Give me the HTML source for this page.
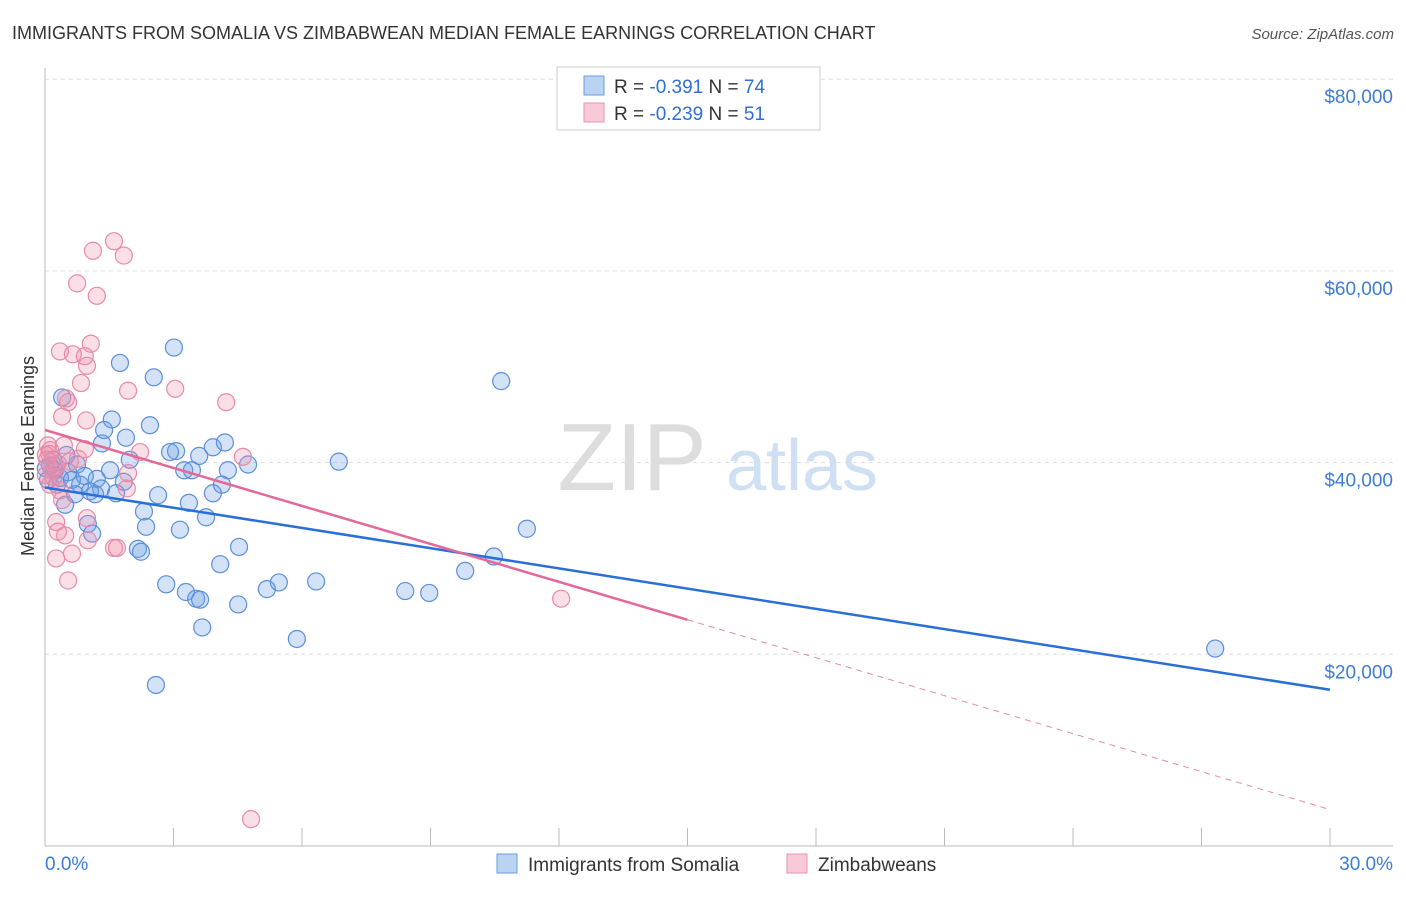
<!DOCTYPE html>
<html><head><meta charset="utf-8"><style>
body{margin:0;background:#fff;font-family:"Liberation Sans",sans-serif;}
svg text{font-family:"Liberation Sans",sans-serif;}
</style></head><body>
<svg width="1406" height="892" xmlns="http://www.w3.org/2000/svg" id="chart">
<text x="12" y="39" font-size="18" fill="#333">IMMIGRANTS FROM SOMALIA VS ZIMBABWEAN MEDIAN FEMALE EARNINGS CORRELATION CHART</text>
<text x="1394" y="39" font-size="15" fill="#555" font-style="italic" text-anchor="end">Source: ZipAtlas.com</text>
<g>
<text x="632" y="490" font-size="96" fill="#ddd" text-anchor="middle" font-family="Liberation Serif">ZIP</text>
<text x="802" y="490" font-size="72" fill="#cfe0f5" text-anchor="middle">atlas</text>
</g>
<g id="grid"></g>
<g id="axes"></g>
<g id="pts-blue"></g>
<g id="pts-pink"></g>
<g id="trends"></g>
<text x="34" y="456" font-size="18" fill="#333" text-anchor="middle" transform="rotate(-90 34 456)">Median Female Earnings</text>
<g>
<rect x="557" y="67" width="263" height="63" fill="#fff" stroke="#ccc"/>
<rect x="584" y="76" width="20" height="19" fill="#b9d3f3" stroke="#6a9ee0"/>
<rect x="584" y="103" width="20" height="19" fill="#f9c9d8" stroke="#ea92b0"/>
<text x="614" y="93" font-size="19" fill="#333">R = <tspan fill="#2f6fd6">-0.391</tspan>   N = <tspan fill="#2f6fd6">74</tspan></text>
<text x="614" y="120" font-size="19" fill="#333">R = <tspan fill="#2f6fd6">-0.239</tspan>   N =  <tspan fill="#2f6fd6">51</tspan></text>
</g>
<g>
<rect x="497" y="854" width="20" height="19" fill="#b9d3f3" stroke="#6a9ee0"/>
<text x="528" y="871" font-size="19" fill="#333">Immigrants from Somalia</text>
<rect x="787" y="854" width="20" height="19" fill="#f9c9d8" stroke="#ea92b0"/>
<text x="818" y="871" font-size="19" fill="#333">Zimbabweans</text>
</g>
</svg>
<script>
const blueX=[3.01,2.54,1.75,10.65,0.40,1.56,2.45,1.38,1.89,1.33,3.06,2.92,3.92,4.20,3.60,4.74,6.86,3.25,3.43,4.27,1.98,0.75,0.54,1.21,1.84,4.13,0.28,0.82,1.31,2.64,3.36,3.92,1.66,0.70,1.17,0.47,2.31,3.76,3.15,2.36,1.00,1.10,11.25,10.48,4.53,2.17,2.24,4.09,9.81,2.83,6.33,5.46,5.18,3.29,3.53,3.62,4.51,8.41,8.97,3.67,5.88,2.59,27.32,0.12,0.23,0.07,0.35,0.63,0.93,0.02,0.19,1.52,1.05,0.5];
const blueY=[52.0,48.9,50.4,48.5,46.8,44.5,43.9,43.4,42.6,42.0,41.2,41.1,41.6,42.1,40.7,39.8,40.1,39.2,39.2,39.2,40.3,39.8,39.0,38.3,38.0,37.7,37.7,37.7,37.3,36.6,35.8,36.8,36.8,36.7,36.7,35.6,34.9,34.3,33.0,33.3,33.6,32.6,33.1,30.2,31.2,31.0,30.7,29.4,28.7,27.3,27.6,27.5,26.8,26.5,25.8,25.7,25.2,26.6,26.4,22.8,21.6,16.8,20.6,39.7,39.2,38.2,38.4,38.2,38.6,39.4,40.3,39.2,37.0,40.8];
const pinkX=[1.61,1.84,1.12,0.75,1.21,1.07,0.35,0.65,0.93,0.98,0.84,0.49,0.54,0.40,0.96,1.94,3.04,4.23,0.44,0.93,0.77,4.62,2.22,1.94,1.91,0.12,0.05,0.16,0.26,0.02,0.35,0.40,0.26,0.30,0.98,0.47,1.00,0.26,0.63,1.61,1.68,0.54,12.05,4.81,0.07,0.02,0.12,0.58,0.2,0.3,0.1];
const pinkY=[63.1,61.6,62.1,58.7,57.4,52.4,51.6,51.3,51.1,50.1,48.3,46.7,46.3,44.8,44.4,47.5,47.7,46.3,41.8,41.4,40.4,40.6,41.1,38.9,37.3,41.3,40.3,39.2,39.6,38.7,37.1,36.1,33.8,32.8,34.2,32.4,31.9,30.0,30.5,31.1,31.1,27.7,25.8,2.8,41.8,40.8,37.7,40.1,38.5,39.9,40.9];
const yTicks=[20,40,60,80];
const yTickLabels=["$20,000","$40,000","$60,000","$80,000"];
const xTickLabels=["0.0%","30.0%"];
const blueTrend=[37.4,16.3];
const pinkTrend=[43.4,3.8];
const pinkSolidEnd=15;

const NS="http://www.w3.org/2000/svg";
const X0=45,X1=1330,Y0=846,YPER=191.7/20;
const sx=v=>X0+(v/30)*(X1-X0);
const sy=v=>Y0-v*YPER;
function mk(tag,attrs,parent){const e=document.createElementNS(NS,tag);for(const k in attrs)e.setAttribute(k,attrs[k]);parent.appendChild(e);return e;}
const grid=document.getElementById('grid'),axes=document.getElementById('axes');
yTicks.forEach((t,i)=>{
 const l=mk('line',{x1:X0,x2:1393,y1:sy(t),y2:sy(t),stroke:'#ddd','stroke-dasharray':'4,4'},grid);
 
 
 const tx=mk('text',{x:1393,y:sy(t)+24,'text-anchor':'end','font-size':19,fill:'#3b7dd8'},axes);
 tx.textContent=yTickLabels[i];
 
 
});
const yl=mk('line',{x1:X0,x2:X0,y1:68,y2:Y0,stroke:'#bbb'},axes);


const xl=mk('line',{x1:X0,x2:1393,y1:Y0,y2:Y0,stroke:'#bbb'},axes);


for(let i=1;i<=10;i++){
 const t=mk('line',{x1:sx(i*3),x2:sx(i*3),y1:828,y2:Y0,stroke:'#bbb'},axes);
 
 
}
const xa=mk('text',{x:X0,y:870,'font-size':19,fill:'#3b7dd8'},axes);xa.textContent=xTickLabels[0];


const xb=mk('text',{x:1393,y:870,'font-size':19,fill:'#3b7dd8','text-anchor':'end'},axes);xb.textContent=xTickLabels[1];


const gb=document.getElementById('pts-blue'),gp=document.getElementById('pts-pink');
pinkX.forEach((x,i)=>{
 const c=mk('circle',{cx:sx(x),cy:sy(pinkY[i]),r:8.5,fill:'rgba(240,140,170,0.28)',stroke:'#e88aa8','stroke-width':1.2},gp);
 
 
});
blueX.forEach((x,i)=>{
 const c=mk('circle',{cx:sx(x),cy:sy(blueY[i]),r:8.5,fill:'rgba(110,160,230,0.3)',stroke:'#5b8fdc','stroke-width':1.2},gb);
 
 
});
const tr=document.getElementById('trends');
const bl=mk('line',{x1:sx(0),y1:sy(blueTrend[0]),x2:sx(30),y2:sy(blueTrend[1]),stroke:'#2a6fd8','stroke-width':2.5},tr);


const pm=pinkTrend[0]+(pinkTrend[1]-pinkTrend[0])*pinkSolidEnd/30;
const pl=mk('line',{x1:sx(0),y1:sy(pinkTrend[0]),x2:sx(pinkSolidEnd),y2:sy(pm),stroke:'#e4689a','stroke-width':2.5},tr);


const pd=mk('line',{x1:sx(pinkSolidEnd),y1:sy(pm),x2:sx(30),y2:sy(pinkTrend[1]),stroke:'#e88aa8','stroke-width':1,'stroke-dasharray':'6,5'},tr);


</script>
</body></html>
